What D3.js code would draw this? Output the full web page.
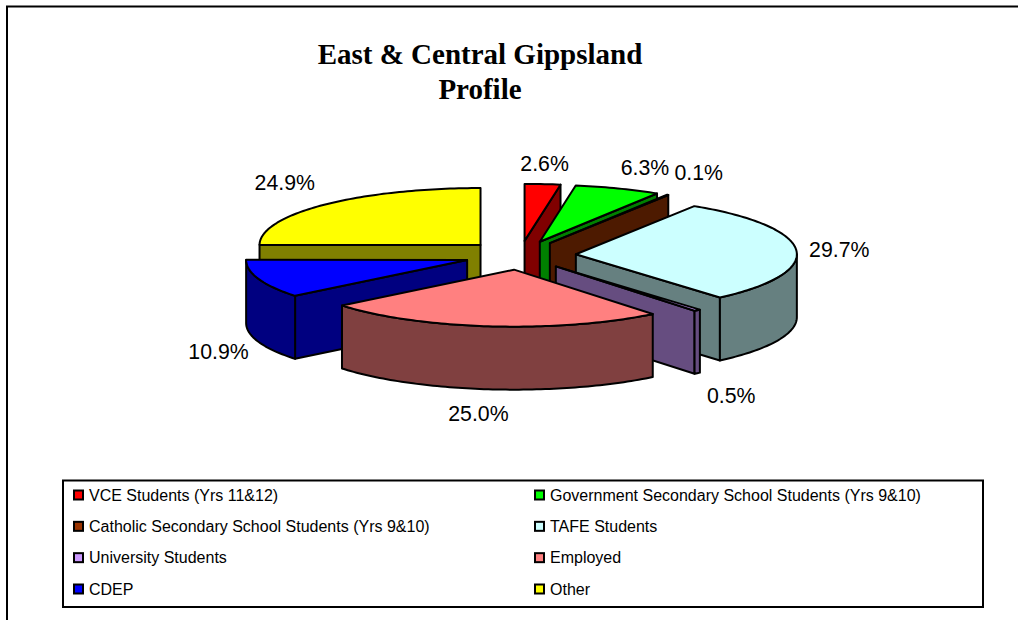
<!DOCTYPE html>
<html><head><meta charset="utf-8">
<script src="https://cdn.jsdelivr.net/npm/d3@7/dist/d3.min.js"></script>
<style>html,body{margin:0;padding:0;background:#fff}svg{display:block}</style>
</head><body><svg id="c" width="1021" height="620"></svg>
<script>
const categories = ["VCE Students (Yrs 11&12)","Government Secondary School Students (Yrs 9&10)","Catholic Secondary School Students (Yrs 9&10)","TAFE Students","University Students","Employed","CDEP","Other"];
const values = [2.6,6.3,0.1,29.7,0.5,25.0,10.9,24.9];
const colors = ["#FF0000","#00FF00","#993300","#CCFFFF","#CC99FF","#FF8080","#0000FF","#FFFF00"];
const titleLines = ["East & Central Gippsland","Profile"];
const labelNudges = [[2,-21],[27,-21.5],[31,-23],[43,-1],[34,85],[-12,87],[-40,72],[-40,-22]];
const paintOrder = [7,0,1,2,3,4,6,5];

const cx=520, cy=255.3, rx=221, ry=57, depth=63, explode=56;
const svg=d3.select("#c");
const ink="#000";

svg.append("path").attr("d","M7,620V6.5H1018").attr("fill","none").attr("stroke",ink).attr("stroke-width",2);

titleLines.forEach((t,i)=>svg.append("text").text(t)
  .attr("x",480).attr("y",64+i*35).attr("text-anchor","middle")
  .attr("font-family","'Liberation Serif'").attr("font-weight","bold").attr("font-size",29));

const pie=d3.pie().sort(null).value(d=>d)(values);
const slices=pie.map((a,i)=>{
  const m=(a.startAngle+a.endAngle)/2;
  return {i,a0:a.startAngle,a1:a.endAngle,m,
    ox:cx+explode*Math.sin(m), oy:cy-explode*(ry/rx)*Math.cos(m), color:colors[i]};
});
const pt=(s,t,dy=0)=>[s.ox+rx*Math.sin(t), s.oy-ry*Math.cos(t)+dy];
const arcPts=(s,t0,t1,dy=0)=>{
  const n=Math.max(2,Math.ceil(Math.abs(t1-t0)/0.02));
  return d3.range(n+1).map(k=>pt(s,t0+(t1-t0)*k/n,dy));
};
const line=d3.line();
const dark=c=>{const r=d3.rgb(c);return d3.rgb(r.r/2,r.g/2,r.b/2).formatHex();};
const faces=svg.append("g").attr("stroke",ink).attr("stroke-width",2).attr("stroke-linejoin","round");

paintOrder.forEach(idx=>{
  const s=slices[idx], g=faces.append("g"), side=dark(s.color), O=[s.ox,s.oy], O2=[s.ox,s.oy+depth];
  const quad=t=>line([O,pt(s,t),pt(s,t,depth),O2])+"Z";
  if(Math.sin(s.a1)>0.001) g.append("path").attr("d",quad(s.a1)).attr("fill",side);
  if(Math.sin(s.a0)<-0.001) g.append("path").attr("d",quad(s.a0)).attr("fill",side);
  const w0=Math.max(s.a0,Math.PI/2), w1=Math.min(s.a1,Math.PI*1.5);
  if(w1>w0){
    const top=arcPts(s,w0,w1), bot=arcPts(s,w1,w0,depth);
    g.append("path").attr("d",line(top.concat(bot))+"Z").attr("fill",side);
  }
  g.append("path").attr("d",line([O].concat(arcPts(s,s.a0,s.a1)))+"Z").attr("fill",s.color);
});

slices.forEach(s=>{
  const p=pt(s,s.m), n=labelNudges[s.i];
  svg.append("text").text(values[s.i].toFixed(1)+"%")
    .attr("x",p[0]+n[0]).attr("y",p[1]+n[1]).attr("dy","0.36em").attr("text-anchor","middle")
    .attr("font-family","'Liberation Sans'").attr("font-size",21.3);
});

svg.append("rect").attr("x",63).attr("y",480.5).attr("width",920).attr("height",126.5)
  .attr("fill","#fff").attr("stroke",ink).attr("stroke-width",2);
const lx=d3.scalePoint().domain([0,1]).range([74,535]);
const ly=d3.scalePoint().domain([0,1,2,3]).range([495,589]);
categories.forEach((c,i)=>{
  const col=i%2,row=Math.floor(i/2),x=lx(col),y=ly(row);
  svg.append("rect").attr("x",x).attr("y",y-4.5).attr("width",9).attr("height",9)
    .attr("fill",colors[i]).attr("stroke",ink).attr("stroke-width",2);
  svg.append("text").text(c).attr("x",x+15).attr("y",y).attr("dy","0.36em")
    .attr("font-family","'Liberation Sans'").attr("font-size",16);
});
</script></body></html>
